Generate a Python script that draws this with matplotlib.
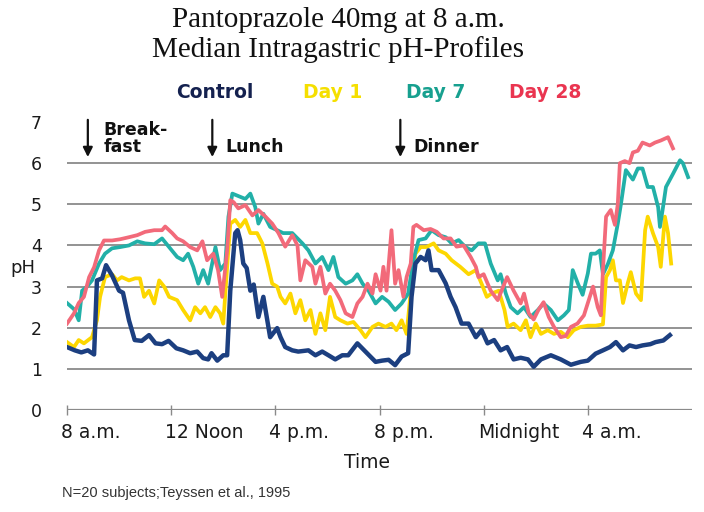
import matplotlib
matplotlib.use("Agg")
import matplotlib.pyplot as plt
import matplotlib.transforms as mtransforms

# hours after 8 a.m. / median pH
ctrl_t = [0, 0.3, 0.55, 0.8, 1.04, 1.15, 1.35, 1.5, 1.73, 2.0, 2.15, 2.38, 2.6, 2.87, 3.15, 3.4, 3.65, 3.9,
          4.2, 4.46, 4.73, 5.0, 5.23, 5.42, 5.55, 5.77, 6.0, 6.15, 6.27, 6.46, 6.55, 6.65, 6.77, 6.9, 7.04, 7.17,
          7.35, 7.54, 7.8, 8.07, 8.2, 8.38, 8.65, 8.88, 9.27, 9.54, 9.8, 10.04, 10.3, 10.57, 10.8, 11.15, 11.46,
          11.85, 12.1, 12.35, 12.6, 12.85, 13.1, 13.23, 13.38, 13.58, 13.77, 13.88, 14.0, 14.27, 14.54, 14.73,
          14.92, 15.15, 15.42, 15.7, 15.92, 16.15, 16.4, 16.65, 16.9, 17.15, 17.42, 17.7, 17.92, 18.2, 18.58,
          18.96, 19.35, 19.73, 20.0, 20.3, 20.58, 20.85, 21.08, 21.35, 21.6, 21.85, 22.1, 22.4, 22.6, 22.9, 23.15]
ctrl_ph = [1.53, 1.45, 1.4, 1.45, 1.35, 3.15, 3.2, 3.52, 3.27, 2.9, 2.85, 2.18, 1.7, 1.68, 1.82, 1.62, 1.6, 1.68,
           1.5, 1.45, 1.38, 1.42, 1.26, 1.23, 1.38, 1.2, 1.33, 1.33, 2.9, 4.3, 4.37, 4.13, 3.56, 3.45, 2.9, 3.05,
           2.26, 2.75, 1.77, 1.99, 1.77, 1.53, 1.45, 1.42, 1.45, 1.33, 1.42, 1.33, 1.23, 1.33, 1.33, 1.62, 1.42,
           1.17, 1.2, 1.22, 1.09, 1.3, 1.38, 2.75, 3.56, 3.72, 3.64, 3.88, 3.4, 3.4, 3.08, 2.75,
           2.5, 2.1, 2.1, 1.77, 1.94, 1.62, 1.7, 1.45, 1.53, 1.23, 1.27, 1.23, 1.05, 1.23, 1.33,
           1.23, 1.1, 1.17, 1.2, 1.37, 1.45, 1.53, 1.65, 1.45, 1.57, 1.53, 1.57, 1.6, 1.65, 1.69, 1.82]

day1_t = [0, 0.27, 0.45, 0.65, 0.96, 1.15, 1.27, 1.46, 1.73, 1.92, 2.1, 2.38, 2.62, 2.8, 2.96, 3.15, 3.35, 3.54,
          3.73, 3.92, 4.23, 4.46, 4.73, 4.92, 5.12, 5.3, 5.5, 5.7, 5.88, 6.0, 6.15, 6.27, 6.46, 6.65, 6.85, 7.04,
          7.3, 7.5, 7.7, 7.88, 8.07, 8.2, 8.38, 8.58, 8.77, 8.96, 9.15, 9.35, 9.54, 9.73, 9.92, 10.1, 10.3, 10.5,
          10.77, 11.0, 11.27, 11.46, 11.73, 11.96, 12.23, 12.46, 12.65, 12.85, 13.04, 13.23, 13.38, 13.58, 13.8,
          14.08, 14.27, 14.54, 14.77, 15.1, 15.42, 15.7, 15.92, 16.12, 16.3, 16.58, 16.8, 16.92, 17.15, 17.42,
          17.62, 17.8, 18.0, 18.2, 18.46, 18.7, 18.96, 19.23, 19.46, 19.73, 20.0, 20.3, 20.58, 20.7, 20.85,
          20.96, 21.08, 21.23, 21.35, 21.54, 21.65, 21.85, 22.04, 22.2, 22.3, 22.5, 22.7, 22.8, 22.96, 23.08, 23.2]
day1_ph = [1.65, 1.53, 1.7, 1.62, 1.77, 2.18, 2.75, 3.23, 3.3, 3.15, 3.23, 3.15, 3.2, 3.2, 2.75, 2.9, 2.59, 3.15,
           3.0, 2.75, 2.67, 2.43, 2.18, 2.5, 2.35, 2.5, 2.26, 2.5, 2.35, 2.1, 3.48, 4.53, 4.62, 4.45, 4.62, 4.3,
           4.3, 4.05, 3.56, 3.07, 3.0, 2.75, 2.59, 2.83, 2.35, 2.67, 2.18, 2.43, 1.85, 2.35, 1.94, 2.75, 2.26, 2.18,
           2.1, 2.14, 1.94, 1.77, 2.02, 2.1, 2.02, 2.1, 1.94, 2.18, 1.85, 3.07, 3.8, 3.96, 3.96,
           4.05, 3.88, 3.8, 3.64, 3.48, 3.3, 3.4, 3.07, 2.75, 2.83, 2.9, 2.43, 2.02, 2.1, 1.94,
           2.18, 1.77, 2.1, 1.85, 1.94, 1.85, 1.9, 1.77, 1.94, 2.02, 2.05, 2.05, 2.08, 3.23, 3.4,
           3.64, 3.15, 3.15, 2.6, 3.1, 3.35, 2.83, 2.67, 4.37, 4.7, 4.3, 3.96, 3.48, 4.7, 4.3, 3.56]

day7_t = [0, 0.27, 0.45, 0.58, 0.77, 0.96, 1.23, 1.46, 1.73, 2.04, 2.38, 2.7, 3.0, 3.35, 3.65, 3.92, 4.23, 4.46,
          4.65, 4.85, 5.04, 5.23, 5.42, 5.7, 5.88, 6.08, 6.2, 6.35, 6.58, 6.85, 7.04, 7.23, 7.35, 7.54, 7.8, 8.07,
          8.3, 8.65, 9.04, 9.27, 9.54, 9.8, 10.04, 10.23, 10.42, 10.7, 10.96, 11.15, 11.35, 11.58, 11.85, 12.1,
          12.35, 12.6, 12.85, 13.1, 13.3, 13.5, 13.77, 14.0, 14.27, 14.54, 14.77, 15.04, 15.3, 15.54, 15.8, 16.05,
          16.27, 16.54, 16.65, 16.85, 17.04, 17.3, 17.55, 17.8, 18.08, 18.3, 18.58, 18.85, 19.08, 19.27, 19.42,
          19.62, 19.8, 20.0, 20.12, 20.3, 20.46, 20.58, 20.77, 20.96, 21.15, 21.27, 21.46, 21.73, 21.92, 22.1,
          22.3, 22.5, 22.7, 22.77, 22.88, 23.0, 23.27, 23.54, 23.65, 23.85]
day7_ph = [2.6, 2.45, 2.18, 2.9, 3.0, 3.15, 3.56, 3.8, 3.93, 3.96, 4.0, 4.1, 4.05, 4.03, 4.17, 3.96, 3.72, 3.64,
           3.8, 3.48, 3.07, 3.4, 3.07, 3.96, 3.4, 3.56, 4.7, 5.26, 5.2, 5.13, 5.26, 4.93, 4.53, 4.77, 4.45, 4.37,
           4.3, 4.3, 4.05, 3.88, 3.56, 3.72, 3.4, 3.72, 3.23, 3.07, 3.15, 3.3, 3.07, 2.9, 2.59, 2.75,
           2.63, 2.43, 2.59, 2.83, 3.64, 4.13, 4.17, 4.37, 4.25, 4.2, 4.05, 4.13, 3.96, 3.88, 4.05, 4.05,
           3.56, 3.15, 3.3, 2.83, 2.5, 2.35, 2.5, 2.26, 2.43, 2.59, 2.43, 2.18, 2.3, 2.43, 3.4,
           3.07, 2.8, 3.32, 3.8, 3.8, 3.88, 3.3, 3.55, 3.88, 4.53, 5.0, 5.83, 5.6, 5.87, 5.87,
           5.42, 5.42, 4.93, 4.45, 4.9, 5.42, 5.74, 6.07, 6.0, 5.66]

day28_t = [0, 0.27, 0.45, 0.65, 0.85, 1.04, 1.23, 1.42, 1.73, 2.04, 2.38, 2.7, 3.0, 3.35, 3.65, 3.77, 4.04,
           4.23, 4.46, 4.73, 5.0, 5.2, 5.38, 5.62, 5.8, 5.96, 6.15, 6.27, 6.4, 6.58, 6.85, 7.12, 7.35, 7.62, 7.88,
           8.12, 8.38, 8.65, 8.85, 8.96, 9.15, 9.42, 9.54, 9.73, 9.92, 10.1, 10.3, 10.5, 10.7, 10.96, 11.15, 11.35,
           11.54, 11.73, 11.85, 12.04, 12.15, 12.27, 12.46, 12.6, 12.73, 12.92, 13.04, 13.2, 13.3, 13.42, 13.7,
           13.96, 14.2, 14.46, 14.73, 14.96, 15.23, 15.5, 15.7, 15.8, 16.0, 16.27, 16.54, 16.9, 17.15, 17.42,
           17.55, 17.73, 17.92, 18.1, 18.3, 18.5, 18.7, 18.96, 19.15, 19.35, 19.6, 19.85, 20.05, 20.2, 20.38,
           20.5, 20.58, 20.7, 20.88, 21.04, 21.15, 21.23, 21.42, 21.6, 21.73, 21.92, 22.1, 22.38, 22.58, 22.8,
           23.08, 23.27]
day28_ph = [2.1, 2.35, 2.6, 2.75, 3.23, 3.47, 3.88, 4.12, 4.12, 4.15, 4.2, 4.25, 4.33, 4.37, 4.37, 4.46, 4.3,
            4.17, 4.1, 3.96, 3.88, 4.1, 3.64, 3.8, 3.4, 2.75, 3.88, 5.1, 5.05, 4.9, 4.98, 4.73, 4.86, 4.7, 4.53,
            4.3, 3.97, 4.25, 4.0, 3.15, 3.64, 3.48, 3.07, 3.48, 2.83, 3.07, 2.9, 2.67, 2.35, 2.26, 2.59, 2.75,
            3.07, 2.83, 3.3, 2.9, 3.48, 2.9, 4.37, 3.07, 3.4, 2.75, 3.23, 3.56, 4.45, 4.5, 4.37,
            4.4, 4.33, 4.17, 4.17, 3.97, 4.0, 3.72, 3.48, 3.23, 3.3, 2.9, 2.67, 3.23, 2.9, 2.59,
            2.83, 2.35, 2.2, 2.43, 2.62, 2.26, 2.02, 1.77, 1.8, 2.02, 2.1, 2.3, 2.7, 3.0, 2.5,
            2.3, 3.4, 4.7, 4.86, 4.5, 5.0, 6.0, 6.05, 6.0, 6.26, 6.3, 6.5, 6.43, 6.5, 6.55,
            6.63, 6.36]

series = [
    (day1_t, day1_ph, "#fdd700", 2.7),
    (day7_t, day7_ph, "#22b0a8", 2.7),
    (day28_t, day28_ph, "#f26a7a", 2.7),
    (ctrl_t, ctrl_ph, "#1c3f80", 3.2),
]
legend_names = ["Control", "Day 1", "Day 7", "Day 28"]
legend_colors = ["#14214f", "#f5df00", "#17a08f", "#ea3550"]
legend_x = [215, 333, 436, 545]

tick_hours = [0, 4, 8, 12, 16, 20]
tick_labels = ["8 a.m.", "12 Noon", "4 p.m.", "8 p.m.", "Midnight", "4 a.m."]

meal_hours = [0.8, 5.58, 12.8]
meal_labels = ["Break-\nfast", "Lunch", "Dinner"]

W, H = 704, 512
fig = plt.figure(figsize=(W / 100, H / 100), dpi=100)
ax = fig.add_axes([67 / W, 1 - 410 / H, 625 / W, 288 / H])

for t, ph, col, lw in series:
    ax.plot(t, ph, color=col, lw=lw, solid_joinstyle="round", zorder=3)

ax.set_xlim(0, 24)
ax.set_ylim(0, 7)
for y in range(1, 7):
    ax.axhline(y, color="#8a8a8a", lw=1.3, zorder=1)
ax.axhline(0, color="#8a8a8a", lw=1.6, zorder=1)

for s in ax.spines.values():
    s.set_visible(False)

ax.set_yticks(range(0, 8))
ax.set_yticklabels([str(i) for i in range(0, 8)], fontsize=12.5, color="#1a1a1a")
ax.tick_params(axis="y", length=0, pad=18)

ax.set_xticks(tick_hours)
ax.set_xticklabels(tick_labels, fontsize=13.5, color="#1a1a1a", ha="left")
ax.tick_params(axis="x", direction="inout", length=7, color="#8a8a8a", width=1, pad=6)
offset = mtransforms.ScaledTranslation(-6 / 100, 0, fig.dpi_scale_trans)
for lbl in ax.get_xticklabels():
    lbl.set_transform(lbl.get_transform() + offset)

fig.text(10 / W, 1 - 268 / H, "pH", fontsize=13, color="#1a1a1a", va="center")
fig.text(367 / W, 1 - 462 / H, "Time", fontsize=13.5, color="#1a1a1a", ha="center", va="center")
fig.text(62 / W, 1 - 493 / H, "N=20 subjects;Teyssen et al., 1995", fontsize=10.5,
         family="Liberation Sans", color="#333", va="center")

# meals
for mh, ml in zip(meal_hours, meal_labels):
    ax.annotate("", xy=(mh, 6.08), xytext=(mh, 7.12), annotation_clip=False,
                arrowprops=dict(arrowstyle="-|>", color="#111", lw=1.6, mutation_scale=14))
    if "\n" in ml:
        ax.text(mh + 0.6, 6.6, ml, fontsize=12.5, fontweight="bold", color="#111", va="center",
                ha="left", linespacing=0.95, clip_on=False)
    else:
        ax.text(mh + 0.5, 6.4, ml, fontsize=12.5, fontweight="bold", color="#111", va="center",
                ha="left", clip_on=False)

fig.text(338 / W, 1 - 20 / H, "Pantoprazole 40mg at 8 a.m.", fontsize=21,
         family="Liberation Serif", ha="center", va="center", color="#111")
fig.text(338 / W, 1 - 50 / H, "Median Intragastric pH-Profiles", fontsize=21,
         family="Liberation Serif", ha="center", va="center", color="#111")

for name, col, x in zip(legend_names, legend_colors, legend_x):
    fig.text(x / W, 1 - 92 / H, name, fontsize=13.5, fontweight="bold", color=col,
             ha="center", va="center")

fig.savefig("out.png", dpi=100)
